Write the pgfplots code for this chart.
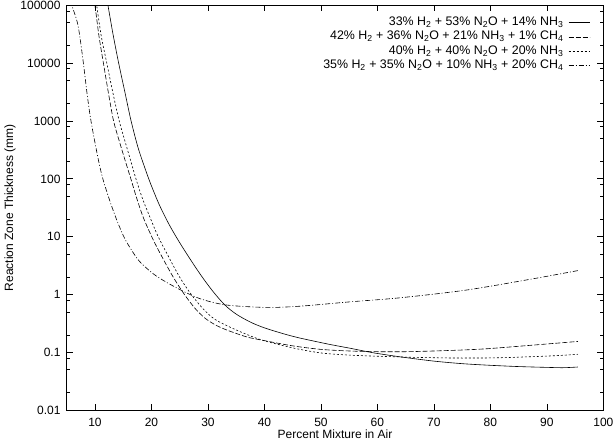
\documentclass[border=0pt]{standalone}
\usepackage{fontspec}
\setmainfont{Liberation Sans}
\usepackage{pgfplots}
\pgfplotsset{compat=1.18}

\newcommand{\lbl}{\fontsize{12bp}{14bp}\selectfont}
\newcommand{\lgd}{\fontsize{12.4bp}{14bp}\selectfont}

\begin{document}
\begin{tikzpicture}[font=\lbl]
\useasboundingbox (-66.7bp,-29.7bp) rectangle (547.3bp,410.3bp);
\begin{axis}[
  scale only axis, width=536.7bp, height=405bp,
  at={(0,0)}, anchor=south west,
  xmin=5, xmax=100, ymin=0.01, ymax=100000, ymode=log,
  xtick={10,20,30,40,50,60,70,80,90,100},
  xticklabels={10,20,30,40,50,60,70,80,90,100},
  ytick={0.01,0.1,1,10,100,1000,10000,100000},
  yticklabels={0.01,0.1,1,10,100,1000,10000,100000},
  minor ytick={0.02,0.05,0.08,0.2,0.5,0.8,2,5,8,20,50,80,200,500,800,
    2000,5000,8000,20000,50000,80000},
  xtick pos=both, ytick pos=both, tick align=inside,
  major tick length=6bp, minor tick length=3bp,
  axis line style={line width=0.8bp},
  every tick/.style={black, line width=0.8bp},
  every minor tick/.style={black, line width=0.8bp},
  /pgf/number format/assume math mode=true,
  tick label style={font=\lbl},
  xticklabel style={yshift=-4.4bp},
  yticklabel style={xshift=-2.7bp},
  xlabel={Percent Mixture in Air},
  ylabel={Reaction Zone Thickness (mm)},
  xlabel style={at={(axis description cs:0.5,0)}, anchor=center, yshift=-24.3bp},
  ylabel style={at={(axis description cs:-0.1056,0.5)}, anchor=center},
  legend cell align=right,
  legend plot pos=right,
  legend image code/.code={\draw[#1] (0bp,0bp) -- (21bp,0bp);},
  legend style={at={(1,1)}, anchor=north east, xshift=-13.4bp, yshift=-10.25bp,
    draw=none, fill=none, inner sep=0bp, outer sep=0bp, font=\lgd,
    column sep=4bp, row sep=0bp,
    nodes={inner sep=1bp, text height=9bp, text depth=3.3bp}},
  every axis plot/.append style={smooth, tension=0.5},
]
% 33% H2 + 53% N2O + 14% NH3
\addplot[black, line width=0.6bp] coordinates {
 (12.0,140000) (12.3,100000) (13.2,31600) (14.2,10000) (15.3,3160) (16.4,1000)
 (17.6,355) (18.8,158) (19.8,85) (21.4,35.5) (23.2,15.8) (25.0,7.9) (27,3.9)
 (29,2.0) (31,1.1) (33,0.66) (35,0.46) (37.5,0.335) (40,0.266)
 (43.4,0.21) (46,0.18) (49.3,0.153) (52,0.135) (55.2,0.118) (58,0.104)
 (60,0.096) (64,0.084) (69.9,0.071) (75,0.064) (79.9,0.060) (85,0.057)
 (90.6,0.055) (93,0.0545) (95.5,0.056)
};
% 42% H2 + 36% N2O + 21% NH3 + 1% CH4
\addplot[black, line width=0.6bp, dash pattern=on 5bp off 2bp] coordinates {
 (9.7,130000) (10.0,100000) (10.7,30000) (11.5,10000) (12.4,3000) (13.3,1000)
 (14.4,420) (15.4,200) (16.4,97) (17.4,46) (18.6,21) (20.4,8.5) (22.4,3.6)
 (24,1.9) (25.7,1.05) (27.7,0.58) (29.5,0.39) (31.3,0.3) (33.3,0.245)
 (36.9,0.185) (40,0.16) (45,0.13) (50,0.113) (55,0.106) (60,0.103) (65,0.103)
 (70,0.106) (75.8,0.111) (80,0.117) (87.6,0.134) (95.5,0.155)
};
% 40% H2 + 40% N2O + 20% NH3
\addplot[black, line width=0.6bp, dash pattern=on 2bp off 2bp] coordinates {
 (10.0,130000) (10.3,100000) (11.1,30000) (12.1,10000) (13.2,3000) (14.3,1000)
 (15.4,420) (16.3,210) (17.3,97) (18.4,46) (19.8,21) (21.2,10) (23.2,4.2)
 (25,2.0) (26.9,1.05) (29.2,0.56) (31.3,0.37) (34.8,0.25) (39.2,0.168)
 (45,0.12) (50,0.098) (55,0.09) (60,0.086) (65,0.083) (70,0.081) (75,0.08)
 (81.7,0.081) (90.6,0.087) (95.5,0.093)
};
% 35% H2 + 35% N2O + 10% NH3 + 20% CH4
\addplot[black, line width=0.6bp, dash pattern=on 5bp off 2bp on 1bp off 2bp] coordinates {
 (5.7,120000) (5.9,100000) (7.0,45000) (7.9,11000) (8.6,3000) (9.3,1000)
 (10.5,240) (11.4,100) (12.7,40) (13.9,19) (15.35,9) (17.4,4.3) (18.9,3.0)
 (21,2.05) (24.5,1.3) (28.6,0.85) (33.3,0.66) (40.4,0.6) (46.3,0.63)
 (55.2,0.75) (64,0.88) (75.8,1.2) (87.6,1.88) (95.5,2.6)
};
\legend{33\% H\textsubscript{2} + 53\% N\textsubscript{2}O + 14\% NH\textsubscript{3},
  42\% H\textsubscript{2} + 36\% N\textsubscript{2}O + 21\% NH\textsubscript{3} + 1\% CH\textsubscript{4},
  40\% H\textsubscript{2} + 40\% N\textsubscript{2}O + 20\% NH\textsubscript{3},
  35\% H\textsubscript{2} + 35\% N\textsubscript{2}O + 10\% NH\textsubscript{3} + 20\% CH\textsubscript{4}}
\end{axis}
\end{tikzpicture}
\end{document}
